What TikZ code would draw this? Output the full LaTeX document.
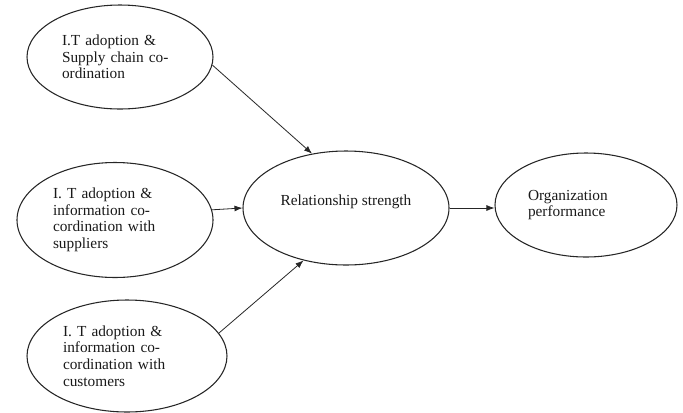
\documentclass[tikz,border=0pt]{standalone}
\usepackage{fontspec}
\setmainfont{Liberation Serif}
\usetikzlibrary{shapes.geometric,arrows.meta}
\begin{document}
\begin{tikzpicture}[x=0.75pt,y=-0.75pt,
  oval/.style={ellipse,draw=black!85,line width=0.8pt,inner sep=0pt,
    font=\fontsize{11.5}{12.4}\selectfont,text=black!90},
  conn/.style={draw=black!85,line width=0.6pt,-{Latex[length=6pt,width=4.5pt]}}]
\useasboundingbox (0,0) rectangle (683,412);
\node[oval,minimum width=139.5pt,minimum height=78pt,text width=87pt,align=left] (e1) at (120,57)
  {I.T adoption \&\\Supply chain co-\\ordination};
\node[oval,minimum width=147pt,minimum height=86.25pt,text width=93pt,align=left] (e2) at (115,220)
  {I. T adoption \&\\information co-\\cordination with\\suppliers};
\node[oval,minimum width=150pt,minimum height=84pt,text width=96pt,align=left] (e3) at (127,356)
  {I. T adoption \&\\information co-\\cordination with\\customers};
\node[oval,minimum width=154.5pt,minimum height=85.5pt,align=center] (rel) at (346,208)
  {Relationship strength\\\mbox{}};
\node[oval,minimum width=136.5pt,minimum height=78pt,text width=87pt,align=left] (org) at (586,205)
  {Organization\\performance};
\draw[conn] (e1.-5) -- (rel.122);
\draw[conn] (e2.6.5) -- (rel.west);
\draw[conn] (e3.14) -- (rel.231);
\draw[conn] (rel.east) -- (rel.east -| org.west);
\end{tikzpicture}
\end{document}
